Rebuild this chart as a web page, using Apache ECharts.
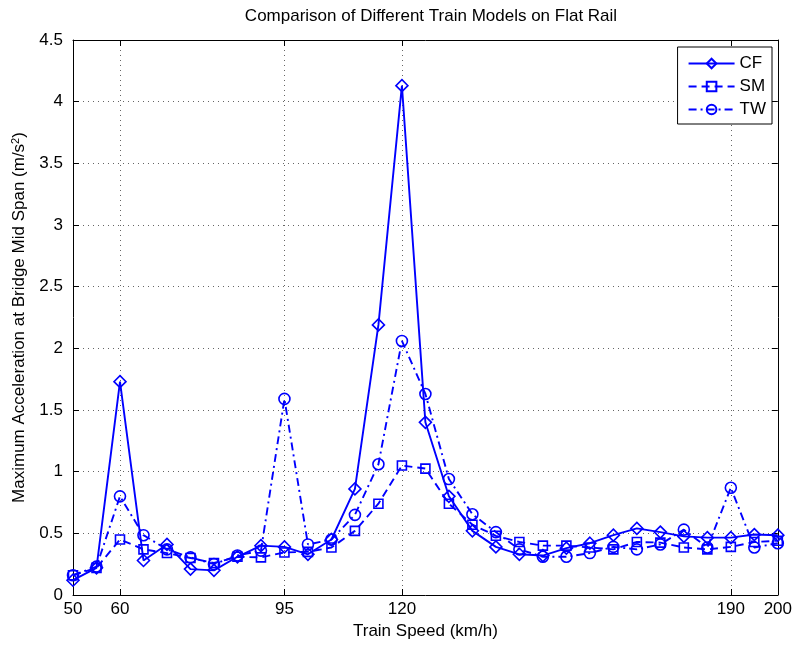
<!DOCTYPE html>
<html>
<head>
<meta charset="utf-8">
<script src="https://cdn.jsdelivr.net/npm/echarts@6/dist/echarts.min.js"></script>
<style>html,body{margin:0;padding:0;background:#fff;}#c{width:795px;height:645px;}</style>
</head>
<body>
<div id="c"></div>
<script>
const speeds = [50,55,60,65,70,75,80,85,90,95,100,105,110,115,120,125,130,135,140,145,150,155,160,165,170,175,180,185,190,195,200];
const cf = [0.12,0.22,1.73,0.28,0.41,0.21,0.20,0.31,0.40,0.39,0.33,0.45,0.86,2.19,4.13,1.40,0.80,0.52,0.39,0.33,0.32,0.38,0.42,0.485,0.54,0.51,0.475,0.465,0.465,0.49,0.485];
const sm = [0.16,0.22,0.45,0.37,0.34,0.30,0.26,0.31,0.305,0.345,0.35,0.385,0.52,0.74,1.05,1.025,0.74,0.57,0.48,0.43,0.40,0.40,0.385,0.37,0.43,0.425,0.385,0.37,0.39,0.43,0.44];
const tw = [0.16,0.23,0.80,0.485,0.37,0.305,0.25,0.32,0.36,1.59,0.41,0.45,0.65,1.06,2.06,1.63,0.94,0.655,0.51,0.37,0.31,0.31,0.34,0.39,0.37,0.41,0.53,0.385,0.87,0.385,0.42];
const xTicks = [50,60,95,120,190,200];
const seriesNames = ['CF','SM','TW'];

const FONT = 'Liberation Sans, Arial, Helvetica, sans-serif';
const FS = 17;
const BLUE = '#0000ff';

function pairs(vals){ return speeds.map((s,i)=>[s, vals[i]]); }

function mkSeries(name, vals, symbol, size, lineType){
  return {
    name: name, type: 'line', data: pairs(vals),
    symbol: symbol, symbolSize: size, showAllSymbol: true,
    lineStyle: {color: BLUE, width: 1.9, type: lineType},
    itemStyle: {color: 'rgba(255,255,255,0)', borderColor: BLUE, borderWidth: 1.6},
    emphasis: {disabled: true},
    animation: false, z: 3
  };
}

const chart = echarts.init(document.getElementById('c'), null, {renderer: 'canvas'});
chart.setOption({
  backgroundColor: '#fff',
  animation: false,
  title: {
    text: 'Comparison of Different Train Models on Flat Rail',
    left: 426, top: 3, textAlign: 'center',
    textStyle: {fontFamily: FONT, fontSize: FS, fontWeight: 'normal', color: '#000'}
  },
  grid: {left: 73, right: 16, top: 40, bottom: 49, containLabel: false},
  legend: {
    data: seriesNames.map(n => ({name: n})),
    orient: 'vertical', right: 23, top: 47,
    backgroundColor: '#fff', borderColor: '#000', borderWidth: 1,
    padding: [8, 6, 6, 10], itemGap: 6, itemWidth: 46, itemHeight: 12,
    textStyle: {fontFamily: FONT, fontSize: FS, color: '#000'}
  },
  xAxis: [{
    type: 'value', min: 50, max: 200, position: 'bottom',
    name: 'Train Speed (km/h)', nameLocation: 'middle', nameGap: 28,
    nameTextStyle: {fontFamily: FONT, fontSize: FS, color: '#000'},
    axisLine: {onZero: false, lineStyle: {color: '#000', width: 1}},
    axisTick: {inside: true, length: 6, customValues: xTicks, lineStyle: {color: '#000'}},
    axisLabel: {customValues: xTicks, fontFamily: FONT, fontSize: FS, color: '#000', margin: 6},
    splitLine: {show: true, lineStyle: {color: '#000', type: [1, 4], width: 1, opacity: 0.6}}
  }, {
    type: 'value', min: 50, max: 200, position: 'top',
    axisLine: {onZero: false, lineStyle: {color: '#000', width: 1}},
    axisTick: {inside: true, length: 6, customValues: xTicks, lineStyle: {color: '#000'}},
    axisLabel: {show: false},
    splitLine: {show: false}
  }],
  yAxis: [{
    type: 'value', min: 0, max: 4.5, interval: 0.5, position: 'left',
    name: 'Maximum Acceleration at Bridge Mid Span (m/s{sup|2})', nameLocation: 'middle', nameGap: 44,
    nameTextStyle: {fontFamily: FONT, fontSize: FS, color: '#000',
      rich: {sup: {fontFamily: FONT, fontSize: 11, color: '#000', verticalAlign: 'top', padding: [0, 0, 8, 0]}}},
    axisLine: {show: true, onZero: false, lineStyle: {color: '#000', width: 1}},
    axisTick: {show: true, inside: true, length: 6, lineStyle: {color: '#000'}},
    axisLabel: {fontFamily: FONT, fontSize: FS, color: '#000', margin: 10},
    splitLine: {show: true, lineStyle: {color: '#000', type: [1, 4], width: 1, opacity: 0.6}}
  }, {
    type: 'value', min: 0, max: 4.5, interval: 0.5, position: 'right',
    axisLine: {show: true, onZero: false, lineStyle: {color: '#000', width: 1}},
    axisTick: {show: true, inside: true, length: 6, lineStyle: {color: '#000'}},
    axisLabel: {show: false},
    splitLine: {show: false}
  }],
  series: [
    mkSeries('CF', cf, 'diamond', 12, 'solid'),
    mkSeries('SM', sm, 'rect', 9, [8, 5]),
    mkSeries('TW', tw, 'circle', 11, [8, 4, 2, 4])
  ]
});
</script>
</body>
</html>
